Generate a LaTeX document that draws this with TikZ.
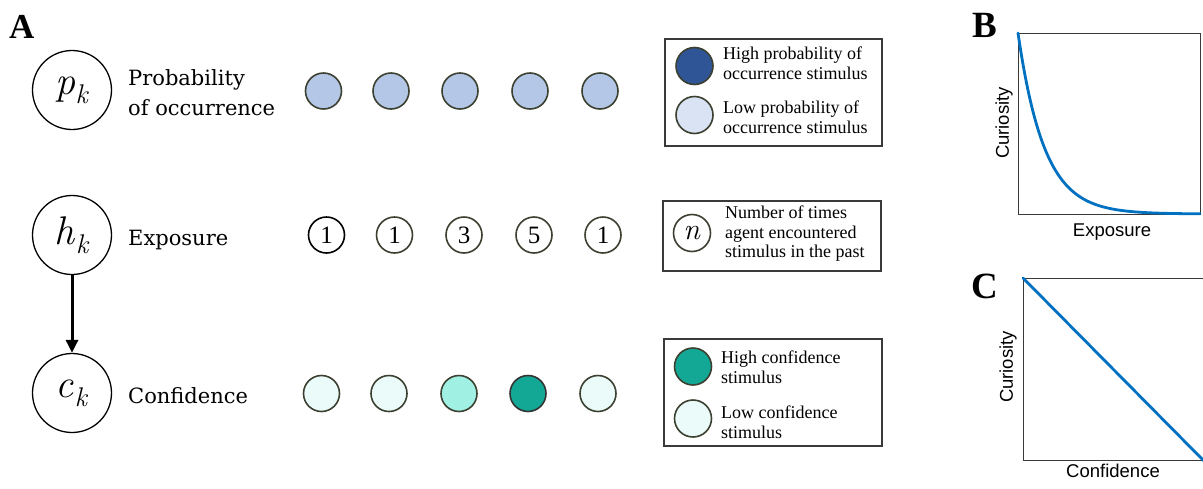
\documentclass[tikz,border=0pt]{standalone}
\usepackage{fontspec}
\usetikzlibrary{arrows.meta}
\newfontfamily\labfont{DejaVu Serif}
\newfontfamily\legfont{Liberation Serif}
\newfontfamily\axfont{Liberation Sans}
\newcommand{\vsym}[2]{\textit{#1}\kern0.5pt\raisebox{-0.22em}{\fontsize{27}{27}\selectfont\textit{#2}}}
\definecolor{olive}{HTML}{3B4030}
\definecolor{pblue}{HTML}{B4C7E7}
\definecolor{hiblue}{HTML}{2F5597}
\definecolor{loblue}{HTML}{DAE3F3}
\definecolor{tlo}{HTML}{EAFBF9}
\definecolor{tmid}{HTML}{A0F0E4}
\definecolor{thi}{HTML}{13A895}
\definecolor{curveblue}{HTML}{0070C0}
\definecolor{boxgray}{HTML}{3A3A3A}
\tikzset{
  var/.style={circle, draw=black, line width=1.3pt, minimum size=79pt, inner sep=0pt, font=\fontsize{40}{40}\selectfont},
  stim/.style={circle, draw=olive, line width=1.6pt, minimum size=36pt, inner sep=0pt},
  numc/.style={stim, fill=white, font=\legfont\fontsize{25}{25}\selectfont},
  lab/.style={font=\labfont\fontsize{21}{30}\selectfont, inner sep=0pt, align=left},
  legtext/.style={font=\legfont\fontsize{18}{19.5}\selectfont, inner sep=0pt, align=left, anchor=north west},
  legbox/.style={draw=boxgray, line width=1.8pt, inner sep=0pt, anchor=north west},
  panel/.style={font=\legfont\bfseries\fontsize{37}{37}\selectfont, inner sep=0pt, anchor=base west},
  axbox/.style={draw=boxgray, line width=1.2pt, inner sep=0pt, anchor=north west},
  axlab/.style={font=\axfont\fontsize{18.5}{18.5}\selectfont, inner sep=0pt},
  curve/.style={draw=curveblue, line width=2.8pt, line cap=round}
}
\begin{document}
\begin{tikzpicture}[x=1pt,y=-1pt]
\useasboundingbox (0,0) rectangle (1203,488);
% panel letters
\node[panel, font=\legfont\bfseries\fontsize{35}{35}\selectfont] (lA) at (9,38) {A};
\node[panel] (lB) at (972,37) {B};
\node[panel] (lC) at (971,298) {C};
% variable nodes
\node[var] (p) at (72,90) {\vsym{p}{k}};
\node[var] (h) at (72,235) {\vsym{h}{k}};
\node[var] (c) at (72,393) {\vsym{c}{k}};
\draw[line width=3pt, -{Triangle[width=12pt,length=13pt]}] (h) -- (c);
% labels
\node[lab, anchor=north west] (lp) at (128,69) {Probability\\of occurrence};
\node[lab, anchor=base west] (lh) at (128,245) {Exposure};
\node[lab, anchor=base west] (lc) at (128,403) {Confidence};
% row 1
\foreach \x/\n in {323.5/1,391/2,460/3,530/4,600/5}
  \node[stim, fill=pblue] (p\n) at (\x,91) {};
% row 2
\node[numc, draw=black] (h1) at (326.5,235) {1};
\node[numc] (h2) at (394.5,235) {1};
\node[numc] (h3) at (464,235) {3};
\node[numc] (h4) at (534,235) {5};
\node[numc] (h5) at (603,235) {1};
% row 3
\node[stim, fill=tlo] (c1) at (321.5,393.5) {};
\node[stim, fill=tlo] (c2) at (389,393.5) {};
\node[stim, fill=tmid] (c3) at (459,393.5) {};
\node[stim, fill=thi, draw=black!80] (c4) at (528,393.5) {};
\node[stim, fill=tlo] (c5) at (598,393.5) {};
% legend 1
\node[legbox, minimum width=217pt, minimum height=107pt] (L1) at (664,38) {};
\node[stim, fill=hiblue, minimum size=37pt] (L1a) at (694.5,66) {};
\node[stim, fill=loblue, minimum size=37pt] (L1b) at (694.5,115) {};
\node[legtext] (L1at) at (723,47) {High probability of\\occurrence stimulus};
\node[legtext] (L1bt) at (723,101) {Low probability of\\occurrence stimulus};
% legend 2
\node[legbox, minimum width=218pt, minimum height=70pt] (L2) at (662,200) {};
\node[stim, fill=white, minimum size=37pt, font=\fontsize{30}{30}\selectfont] (L2a) at (692,233) {\textit{n}};
\node[legtext] (L2t) at (725,206) {Number of times\\agent encountered\\stimulus in the past};
% legend 3
\node[legbox, minimum width=218pt, minimum height=107pt] (L3) at (663,338) {};
\node[stim, fill=thi, minimum size=37pt] (L3a) at (693,366.5) {};
\node[stim, fill=tlo, minimum size=37pt] (L3b) at (693,418.5) {};
\node[legtext] (L3at) at (721,351) {High confidence\\stimulus};
\node[legtext] (L3bt) at (721,406) {Low confidence\\stimulus};
% panel B
\node[axbox, minimum width=182pt, minimum height=181pt] (B) at (1018,33) {};
\draw[curve] plot[domain=0:182, samples=120, smooth] ({1018+\x},{214-181*exp(-0.038*\x)});
\node[axlab, rotate=90] (By) at (1004,123) {Curiosity};
\node[axlab] (Bx) at (1112,232) {Exposure};
% panel C
\node[axbox, minimum width=180pt, minimum height=182pt] (C) at (1023,278) {};
\draw[curve] (C.north west) -- (C.south east);
\node[axlab, rotate=90] (Cy) at (1008,367) {Curiosity};
\node[axlab] (Cx) at (1113,471) {Confidence};
\end{tikzpicture}
\end{document}
